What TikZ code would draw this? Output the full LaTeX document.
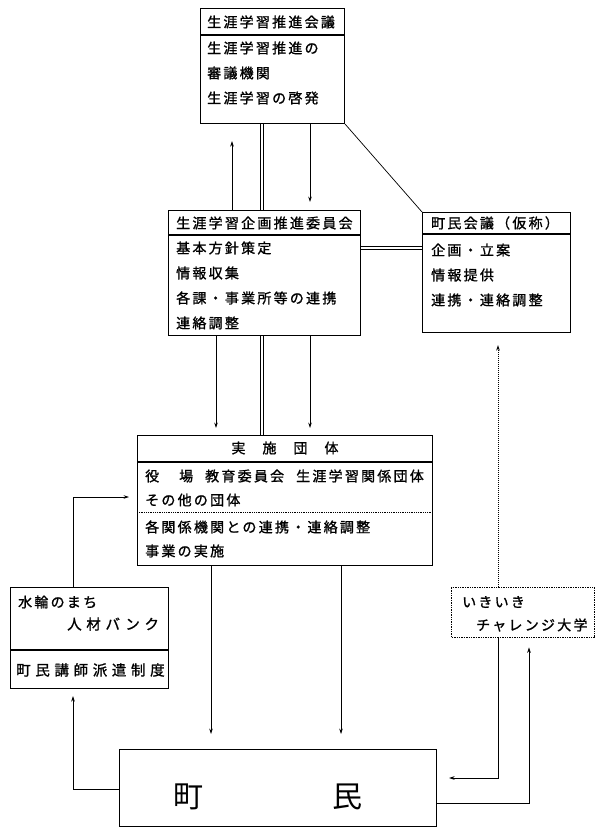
\documentclass[tikz,border=0pt]{standalone}
\usepackage{fontspec}
\newfontfamily\jpf[LetterSpace=16,FakeBold=1.2]{Noto Sans CJK JP}
\newfontfamily\jpw[LetterSpace=32,FakeBold=1.2]{Noto Sans CJK JP}
\newfontfamily\jpb{Noto Sans CJK JP}
\usetikzlibrary{arrows.meta}
\begin{document}
\begin{tikzpicture}[x=1pt,y=-1pt,
  box/.style={draw, line width=1.1pt, anchor=north west, inner sep=0pt},
  dotbox/.style={draw, line width=1.4pt, densely dotted, anchor=north west, inner sep=0pt},
  txt/.style={font=\jpf\fontsize{14pt}{16pt}\selectfont, inner sep=0pt, anchor=west},
  wtxt/.style={font=\jpw\fontsize{14.5pt}{16pt}\selectfont, inner sep=0pt, anchor=west},
  big/.style={font=\jpb\fontsize{30pt}{32pt}\selectfont, inner sep=0pt},
  arr/.style={line width=0.7pt, -{Stealth[length=5.5pt,width=3.6pt]}},
  ln/.style={line width=0.7pt},
  dbl/.style={double, double distance=2pt, line width=0.6pt},
  dotarr/.style={line width=1pt, densely dotted, -{Stealth[length=5.5pt,width=3.6pt]}}
]
\useasboundingbox (0,0) rectangle (600,832);
\fill[white] (0,0) rectangle (600,832);

% column / row coordinates
\coordinate (cA) at (232,0);
\coordinate (cB) at (262,0);
\coordinate (cC) at (310,0);
\coordinate (cD) at (216,0);
\coordinate (cE) at (211,0);
\coordinate (cF) at (341,0);
\coordinate (cG) at (73,0);
\coordinate (cH) at (498,0);
\coordinate (cI) at (529,0);
\coordinate (rA) at (0,497);
\coordinate (rB) at (0,778);
\coordinate (rC) at (0,803);
\coordinate (rD) at (0,789);
\coordinate (rE) at (0,248);

% Box 1
\node[box, minimum width=144pt, minimum height=115pt] (b1) at (200,8) {};
\draw[line width=1.1pt] ([yshift=-27pt]b1.north west) -- ([yshift=-27pt]b1.north east);
\node[txt] (b1h) at (207,22) {生涯学習推進会議};
\node[txt] (b1a) at (207,48) {生涯学習推進の};
\node[txt] (b1b) at (207,73) {審議機関};
\node[txt] (b1c) at (207,98) {生涯学習の啓発};

% Box 2
\node[box, minimum width=192pt, minimum height=125pt] (b2) at (168,210) {};
\draw[line width=1.1pt] ([yshift=-25pt]b2.north west) -- ([yshift=-25pt]b2.north east);
\node[txt] (b2h) at (176,223) {生涯学習企画推進委員会};
\node[txt] (b2a) at (176,248) {基本方針策定};
\node[txt] (b2b) at (176,273) {情報収集};
\node[txt] (b2c) at (176,298) {各課・事業所等の連携};
\node[txt] (b2d) at (176,323) {連絡調整};

% Box 3
\node[box, minimum width=148pt, minimum height=120pt] (b3) at (422,212) {};
\draw[line width=1.1pt] ([yshift=-22pt]b3.north west) -- ([yshift=-22pt]b3.north east);
\node[txt] (b3h) at (431,223) {町民会議（仮称）};
\node[txt] (b3a) at (431,250) {企画・立案};
\node[txt] (b3b) at (431,275) {情報提供};
\node[txt] (b3c) at (431,300) {連携・連絡調整};

% Box 4
\node[box, minimum width=295pt, minimum height=130pt] (b4) at (137,435) {};
\draw[line width=1.1pt] ([yshift=-27pt]b4.north west) -- ([yshift=-27pt]b4.north east);
\draw[line width=0.8pt, densely dotted] ([yshift=-77pt]b4.north west) -- ([yshift=-77pt]b4.north east);
\node[txt, anchor=center] (b4h) at (285,448) {実\hspace{17pt}施\hspace{17pt}団\hspace{17pt}体};
\node[txt] (b4a) at (145,476) {役\hspace{20pt}場\hspace{12pt}教育委員会\hspace{12pt}生涯学習関係団体};
\node[txt] (b4b) at (145,500) {その他の団体};
\node[txt] (b4c) at (145,527) {各関係機関との連携・連絡調整};
\node[txt] (b4d) at (145,551) {事業の実施};

% Box 5
\node[box, minimum width=158pt, minimum height=101pt] (b5) at (10,587) {};
\draw[line width=1.1pt] ([yshift=-63pt]b5.north west) -- ([yshift=-63pt]b5.north east);
\node[txt] (b5a) at (18,602) {水輪のまち};
\node[wtxt] (b5b) at (67,624) {人材バンク};
\node[wtxt] (b5c) at (16,670) {町民講師派遣制度};

% Box 6
\node[dotbox, minimum width=143pt, minimum height=50pt] (b6) at (451,587) {};
\node[txt] (b6a) at (462,602) {いきいき};
\node[txt] (b6b) at (476,625) {チャレンジ大学};

% Box 7
\node[box, minimum width=317pt, minimum height=77pt] (b7) at (119,749) {};
\node[big] (b7a) at (188,797) {町};
\node[big] (b7b) at (347,797) {民};

% connectors
\draw[arr, shorten >=17pt] (b2.north -| cA) -- (b1.south -| cA);
\draw[dbl] (b1.south -| cB) -- (b2.north -| cB);
\draw[arr, shorten >=8pt] (b1.south -| cC) -- (b2.north -| cC);
\draw[ln] (b1.south east) -- (b3.north west);
\draw[dbl] (b2.east |- rE) -- (b3.west |- rE);
\draw[arr, shorten >=7pt] (b2.south -| cD) -- (b4.north -| cD);
\draw[dbl] (b2.south -| cB) -- (b4.north -| cB);
\draw[arr, shorten >=7pt] (b2.south -| cC) -- (b4.north -| cC);
\draw[arr, shorten >=15pt] (b4.south -| cE) -- (b7.north -| cE);
\draw[arr, shorten >=15pt] (b4.south -| cF) -- (b7.north -| cF);
\draw[arr, shorten >=8pt] (b5.north -| cG) |- (b4.west |- rA);
\draw[arr, shorten >=7pt] (b7.west |- rD) -| (b5.south -| cG);
\draw[dotarr, shorten >=12pt] (b6.north -| cH) -- (b3.south -| cH);
\draw[arr, shorten >=12pt] (b6.south -| cH) |- (b7.east |- rB);
\draw[arr, shorten >=9pt] (b7.east |- rC) -| (b6.south -| cI);
\end{tikzpicture}
\end{document}
